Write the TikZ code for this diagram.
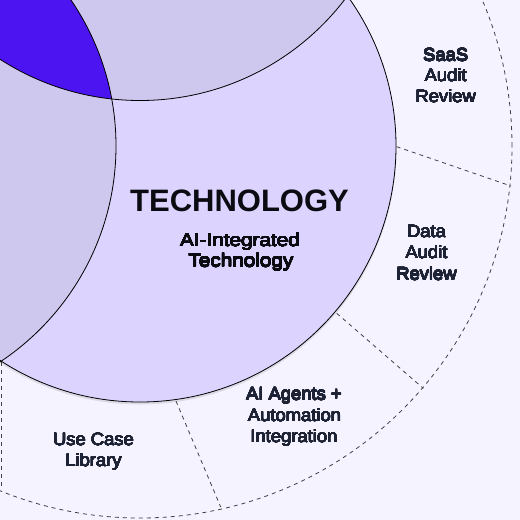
\documentclass[tikz,border=0pt]{standalone}
\usepackage{fontspec}
\usepackage{contour}
\setmainfont{Liberation Sans}
\newfontfamily\subfont[FakeStretch=1.12]{Liberation Sans}
\newfontfamily\lblfont[FakeStretch=1.04]{Liberation Sans}
\contourlength{0.2pt}
\contournumber{24}
\definecolor{bg}{HTML}{F5F3FF}
\definecolor{techfill}{HTML}{DCD3FE}
\definecolor{pairfill}{HTML}{CFC8EE}
\definecolor{core}{HTML}{4C14F0}
\definecolor{navy}{HTML}{1E2235}
\definecolor{ink}{HTML}{0B0B12}
\newcommand{\navytext}[1]{\contour{navy}{#1}}
\newcommand{\inktext}[1]{\contour{ink}{#1}}
\tikzset{
  edge/.style={draw=black, line width=0.8pt},
  ringline/.style={draw=black!75, line width=0.8pt, dash pattern=on 4pt off 4pt},
  title/.style={font=\fontsize{31}{31}\selectfont\bfseries, text=ink, inner sep=0pt, anchor=base},
  sub/.style={font=\fontsize{18.5}{18.5}\selectfont\subfont, text=ink, inner sep=0pt, anchor=base},
  lbl/.style={font=\fontsize{17.7}{17.7}\selectfont\lblfont, text=navy, inner sep=0pt, anchor=base}
}
\begin{document}
\begin{tikzpicture}[x=1pt,y=-1pt]
\useasboundingbox (0,0) rectangle (520,520);
\begin{scope}
  \clip (0,0) rectangle (520,520);
  \fill[bg] (0,0) rectangle (520,520);
  % soft shadow under technology circle
  \fill[black,opacity=0.10] (140,148) circle[radius=256.5pt];
  \fill[techfill] (140,146) circle[radius=256pt];
  \fill[pairfill] (140,-157.5) circle[radius=258pt];
  \fill[pairfill] (-143,146) circle[radius=259pt];
  \begin{scope}
    \clip (140,-157.5) circle[radius=258pt];
    \fill[core] (-143,146) circle[radius=259pt];
  \end{scope}
  \draw[edge] (140,146) circle[radius=256pt];
  \draw[edge] (140,-157.5) circle[radius=258pt];
  \draw[edge] (-143,146) circle[radius=259pt];
  % outer dashed ring
  \draw[ringline] (140,146) circle[radius=372pt];
  % segment separators
  \coordinate (s1a) at (396.7,146.7); \coordinate (s1b) at (511,186);
  \coordinate (s2a) at (336.7,313.3); \coordinate (s2b) at (423.3,388.3);
  \coordinate (s3a) at (176,401);     \coordinate (s3b) at (220.7,507);
  \coordinate (s4a) at (1,362);       \coordinate (s4b) at (1,490);
  \draw[ringline] (s1a) -- (s1b);
  \draw[ringline] (s2a) -- (s2b);
  \draw[ringline] (s3a) -- (s3b);
  \draw[ringline] (s4a) -- (s4b);
\end{scope}
% central texts
\node[title] (tech) at (239.5,211.7) {TECHNOLOGY};
\node[sub] (techsubA) at (240,246.7) {\inktext{AI-Integrated}};
\node[sub] (techsubB) at (241,266.9) {\inktext{Technology}};
% ring labels
\node[lbl] (saasA) at (445.7,61) {\navytext{SaaS}};
\node[lbl] (saasB) at (445.7,81.7) {\navytext{Audit}};
\node[lbl] (saasC) at (445.7,102.3) {\navytext{Review}};
\node[lbl] (dataA) at (426.5,237.3) {\navytext{Data}};
\node[lbl] (dataB) at (426.5,258.7) {\navytext{Audit}};
\node[lbl] (dataC) at (426.5,280) {\navytext{Review}};
\node[lbl] (aiA) at (294,400) {\navytext{AI Agents +}};
\node[lbl] (aiB) at (294.5,421.7) {\navytext{Automation}};
\node[lbl] (aiC) at (294,442.3) {\navytext{Integration}};
\node[lbl] (useA) at (93.5,445.7) {\navytext{Use Case}};
\node[lbl] (useB) at (93.5,466.7) {\navytext{Library}};
\end{tikzpicture}
\end{document}
